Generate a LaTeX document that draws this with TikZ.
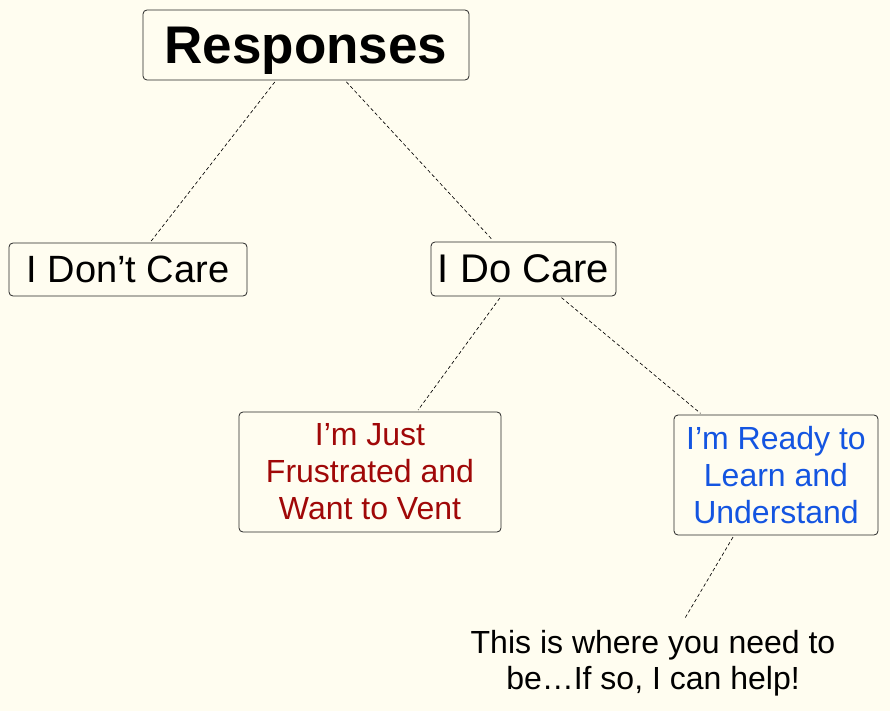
\documentclass[tikz,border=0pt]{standalone}
\usepackage{fontspec}
\setmainfont{Liberation Sans}
\usetikzlibrary{positioning}
\definecolor{paper}{RGB}{255,253,240}
\definecolor{ventred}{RGB}{160,8,8}
\definecolor{learnblue}{RGB}{20,85,225}
\tikzstyle{answer} = [draw=black!85, line width=0.8pt, rounded corners=4pt, align=center, inner sep=0pt]
\tikzstyle{link} = [dash pattern=on 3.5pt off 2.5pt, line width=0.65pt, shorten <=2pt, shorten >=2pt]

\begin{document}
\begin{tikzpicture}[x=1pt, y=-1pt]
  \fill[paper] (0,0) rectangle (890,711);
  \useasboundingbox (0,0) rectangle (890,711);

  % top
  \node[answer, minimum width=326pt, minimum height=70pt, text depth=0pt, font=\fontsize{53}{56}\selectfont\bfseries] (resp) at (306,45) {Responses};

  % first level
  \node[answer, minimum width=238pt, minimum height=53pt, font=\fontsize{38}{42}\selectfont] (dont) at (128,269.5) {I Don’t Care};
  \node[answer, minimum width=185pt, minimum height=54pt, font=\fontsize{40}{44}\selectfont] (care) at (523.5,269) {I Do Care};

  % second level
  \node[answer, minimum width=262pt, minimum height=120pt, text=ventred, font=\fontsize{32}{37}\selectfont] (vent) at (370,472) {I’m Just\\Frustrated and\\Want to Vent};
  \node[answer, minimum width=204pt, minimum height=120pt, text=learnblue, font=\fontsize{32}{37}\selectfont] (ready) at (776,475) {I’m Ready to\\Learn and\\Understand};

  % note
  \node[align=center, inner sep=0pt, font=\fontsize{32}{36}\selectfont] (help) at (653,663) {This is where you need to\\be…If so, I can help!};

  % links
  \draw[link] ([xshift=-30]resp.south) -- ([xshift=22]dont.north);
  \draw[link] ([xshift=39]resp.south) -- ([xshift=-29.5]care.north);
  \draw[link] ([xshift=-22.5]care.south) -- ([xshift=47]vent.north);
  \draw[link] ([xshift=36.5]care.south) -- ([xshift=-74]ready.north);
  \draw[link, shorten >=13pt] ([xshift=-42]ready.south) -- ([xshift=25]help.north);
\end{tikzpicture}
\end{document}
